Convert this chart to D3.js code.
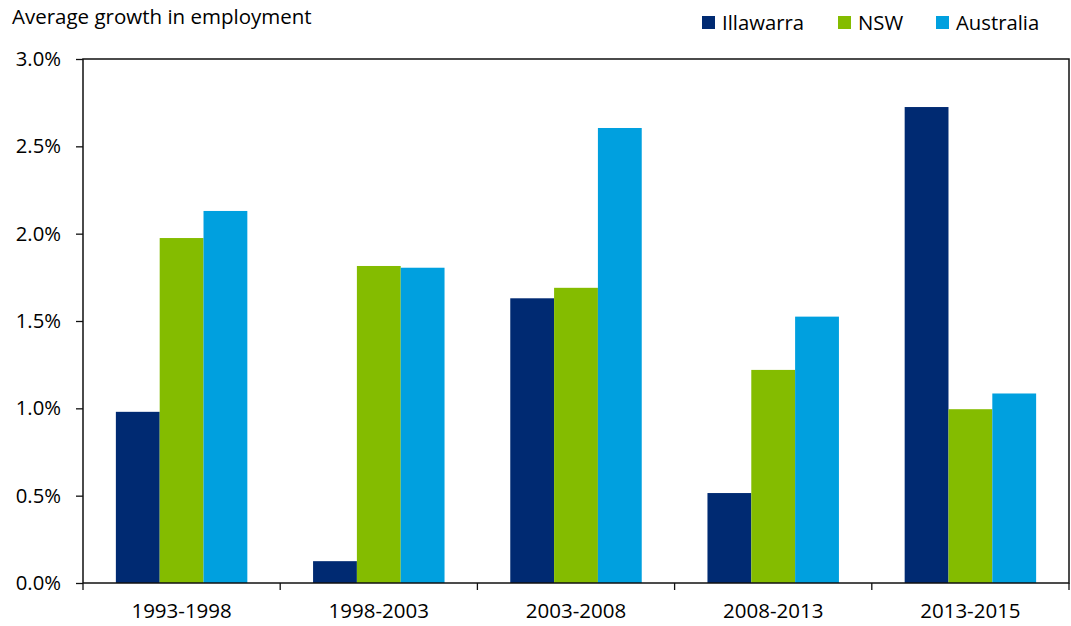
<!DOCTYPE html>
<html><head><meta charset="utf-8">
<script src="https://cdn.jsdelivr.net/npm/d3@7"></script>
<style>body{margin:0;background:#fff}svg{display:block}text{font-family:"Open Sans",Lato,sans-serif;fill:#000}</style>
</head><body>
<svg id="c" width="1071" height="626"></svg>
<script>
const categories = ["1993-1998","1998-2003","2003-2008","2008-2013","2013-2015"];
const seriesNames = ["Illawarra","NSW","Australia"];
const illawarra = [0.98, 0.125, 1.63, 0.515, 2.725];
const nsw = [1.975, 1.815, 1.69, 1.22, 0.995];
const australia = [2.13, 1.805, 2.605, 1.525, 1.085];
const yTicks = [0,0.5,1.0,1.5,2.0,2.5,3.0];
const colors = ["#002a72","#84bc00","#00a0df"];
const seriesValues = [illawarra, nsw, australia];

const svg = d3.select("#c");
const m = {l:83, r:1069, t:59, b:583};
const x = d3.scaleBand().domain(categories).range([m.l, m.r]).paddingInner(0).paddingOuter(0);
const xs = d3.scaleBand().domain(seriesNames).range([0, x.bandwidth()]).paddingInner(0).paddingOuter(0.75);
const y = d3.scaleLinear().domain([0,3]).range([m.b, m.t]);

// bars
categories.forEach((c,i)=>{
  seriesNames.forEach((s,j)=>{
    const v = seriesValues[j][i];
    svg.append("rect").attr("x", x(c)+xs(s)).attr("y", y(v))
      .attr("width", xs.bandwidth()).attr("height", y(0)-y(v)).attr("fill", colors[j]);
  });
});

// frame
svg.append("rect").attr("x",m.l).attr("y",m.t).attr("width",m.r-m.l).attr("height",m.b-m.t)
  .attr("fill","none").attr("stroke","#111").attr("stroke-width",1.5);

// y axis
const ya = svg.append("g").attr("transform",`translate(${m.l},0)`)
  .call(d3.axisLeft(y).tickValues(yTicks).tickFormat(d=>d.toFixed(1)+"%").tickSize(7).tickPadding(15));
ya.select(".domain").remove();
ya.selectAll("line").attr("stroke","#111").attr("stroke-width",1.3);
ya.selectAll("text").style("font-size","20.3px").attr("fill","#000");

// x axis
const xa = svg.append("g").attr("transform",`translate(0,${m.b})`)
  .call(d3.axisBottom(x).tickSize(0).tickPadding(20));
xa.select(".domain").remove();
xa.selectAll("text").style("font-size","20.5px").attr("fill","#000");
svg.append("g").selectAll("line").data(d3.range(categories.length+1)).join("line")
  .attr("x1",i=>m.l+i*x.step()).attr("x2",i=>m.l+i*x.step())
  .attr("y1",m.b).attr("y2",m.b+7).attr("stroke","#111").attr("stroke-width",1.3);

// title
svg.append("text").attr("x",12).attr("y",24).style("font-size","20.5px").text("Average growth in employment");

// legend
const legX = [702, 838, 936];
seriesNames.forEach((s,j)=>{
  svg.append("rect").attr("x",legX[j]).attr("y",16).attr("width",13).attr("height",13).attr("fill",colors[j]);
  svg.append("text").attr("x",legX[j]+20).attr("y",29.5).style("font-size","20.3px").text(s);
});
</script>
</body></html>
